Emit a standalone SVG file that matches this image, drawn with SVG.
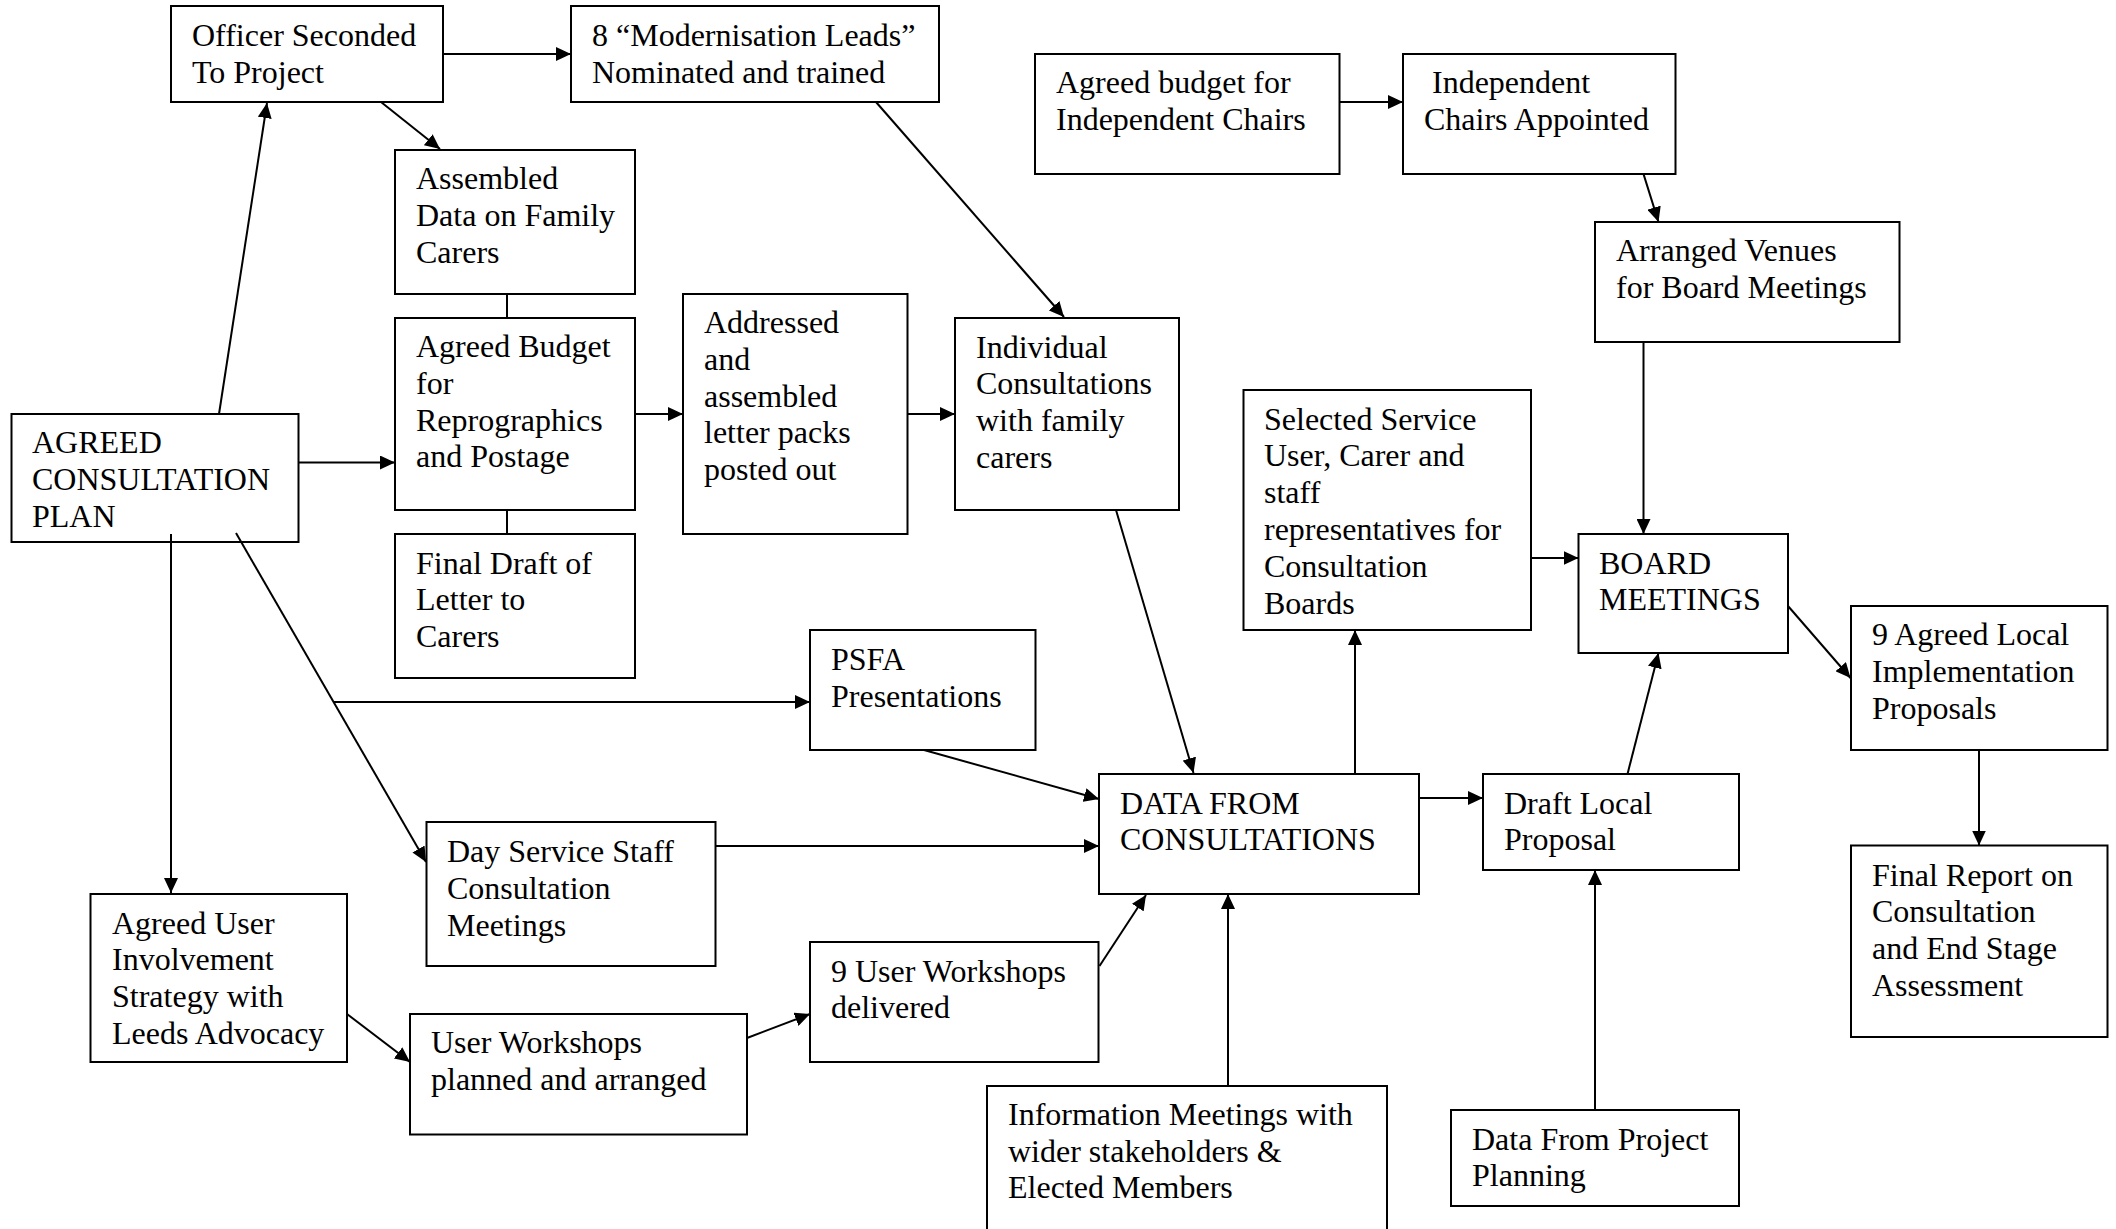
<svg xmlns="http://www.w3.org/2000/svg" width="2116" height="1229" viewBox="0 0 2116 1229">
<style>
.b{fill:#fff;stroke:#000;stroke-width:2}
.t{font-family:"Liberation Serif","Times New Roman",serif;font-size:32px;fill:#000}
.c{fill:none;stroke:#000;stroke-width:2}
.a{marker-end:url(#ah)}
</style>
<defs>
<marker id="ah" markerUnits="userSpaceOnUse" markerWidth="16" markerHeight="14" refX="15" refY="7" orient="auto">
<path d="M0,0 L15,7 L0,14 z" fill="#000"/>
</marker>
</defs>
<rect width="2116" height="1229" fill="#fff"/>
<g id="officer"><rect class="b" x="171" y="6" width="272" height="96"/>
<text class="t" x="192" y="46"><tspan x="192">Officer Seconded</tspan><tspan x="192" dy="36.8">To Project</tspan></text></g>
<g id="modernisation"><rect class="b" x="571" y="6" width="368" height="96"/>
<text class="t" x="592" y="46"><tspan x="592">8 “Modernisation Leads”</tspan><tspan x="592" dy="36.8">Nominated and trained</tspan></text></g>
<g id="assembled"><rect class="b" x="395" y="150" width="240" height="144"/>
<text class="t" y="189"><tspan x="416">Assembled</tspan><tspan x="416" dy="36.8">Data on Family</tspan><tspan x="416" dy="36.8">Carers</tspan></text></g>
<g id="budget-repro"><rect class="b" x="395" y="318" width="240" height="192"/>
<text class="t" y="357"><tspan x="416">Agreed Budget</tspan><tspan x="416" dy="36.8">for</tspan><tspan x="416" dy="36.8">Reprographics</tspan><tspan x="416" dy="36.8">and Postage</tspan></text></g>
<g id="final-draft"><rect class="b" x="395" y="534" width="240" height="144"/>
<text class="t" y="573.5"><tspan x="416">Final Draft of</tspan><tspan x="416" dy="36.8">Letter to</tspan><tspan x="416" dy="36.8">Carers</tspan></text></g>
<g id="addressed"><rect class="b" x="683" y="294" width="224.5" height="240"/>
<text class="t" y="333"><tspan x="704">Addressed</tspan><tspan x="704" dy="36.8">and</tspan><tspan x="704" dy="36.8">assembled</tspan><tspan x="704" dy="36.8">letter packs</tspan><tspan x="704" dy="36.8">posted out</tspan></text></g>
<g id="individual"><rect class="b" x="955" y="318" width="224" height="192"/>
<text class="t" y="357.5"><tspan x="976">Individual</tspan><tspan x="976" dy="36.8">Consultations</tspan><tspan x="976" dy="36.8">with family</tspan><tspan x="976" dy="36.8">carers</tspan></text></g>
<g id="plan"><rect class="b" x="11.5" y="414" width="287" height="128"/>
<text class="t" y="453"><tspan x="32">AGREED</tspan><tspan x="32" dy="36.8">CONSULTATION</tspan><tspan x="32" dy="36.8">PLAN</tspan></text></g>
<g id="psfa"><rect class="b" x="810" y="630" width="225.5" height="120"/>
<text class="t" y="670"><tspan x="831">PSFA</tspan><tspan x="831" dy="36.8">Presentations</tspan></text></g>
<g id="day-service"><rect class="b" x="426.5" y="822" width="289" height="144"/>
<text class="t" y="862"><tspan x="447">Day Service Staff</tspan><tspan x="447" dy="36.8">Consultation</tspan><tspan x="447" dy="36.8">Meetings</tspan></text></g>
<g id="user-strategy"><rect class="b" x="90.5" y="894" width="256.5" height="168"/>
<text class="t" y="933.5"><tspan x="112">Agreed User</tspan><tspan x="112" dy="36.8">Involvement</tspan><tspan x="112" dy="36.8">Strategy with</tspan><tspan x="112" dy="36.8">Leeds Advocacy</tspan></text></g>
<g id="workshops-planned"><rect class="b" x="410" y="1014" width="337" height="120.5"/>
<text class="t" y="1053"><tspan x="431">User Workshops</tspan><tspan x="431" dy="36.8">planned and arranged</tspan></text></g>
<g id="workshops-delivered"><rect class="b" x="810" y="942" width="288.5" height="120"/>
<text class="t" y="981.5"><tspan x="831">9 User Workshops</tspan><tspan x="831" dy="36.8">delivered</tspan></text></g>
<g id="info-meetings"><path class="b" d="M987,1240 L987,1086 L1387,1086 L1387,1240"/>
<text class="t" y="1125.3"><tspan x="1008">Information Meetings with</tspan><tspan x="1008" dy="36.5">wider stakeholders &amp;</tspan><tspan x="1008" dy="36.5">Elected Members</tspan></text></g>
<g id="data-consultations"><rect class="b" x="1099" y="774" width="320" height="120"/>
<text class="t" y="813.5"><tspan x="1120">DATA FROM</tspan><tspan x="1120" dy="36.8">CONSULTATIONS</tspan></text></g>
<g id="draft-proposal"><rect class="b" x="1483" y="774" width="256" height="96"/>
<text class="t" y="813.5"><tspan x="1504">Draft Local</tspan><tspan x="1504" dy="36.8">Proposal</tspan></text></g>
<g id="project-planning"><rect class="b" x="1451" y="1110" width="288" height="96"/>
<text class="t" y="1149.5"><tspan x="1472">Data From Project</tspan><tspan x="1472" dy="36.8">Planning</tspan></text></g>
<g id="selected"><rect class="b" x="1243.5" y="390" width="287.5" height="240"/>
<text class="t" y="429.5"><tspan x="1264">Selected Service</tspan><tspan x="1264" dy="36.8">User, Carer and</tspan><tspan x="1264" dy="36.8">staff</tspan><tspan x="1264" dy="36.8">representatives for</tspan><tspan x="1264" dy="36.8">Consultation</tspan><tspan x="1264" dy="36.8">Boards</tspan></text></g>
<g id="board"><rect class="b" x="1578.5" y="534" width="209.5" height="119"/>
<text class="t" y="573.5"><tspan x="1599">BOARD</tspan><tspan x="1599" dy="36.8">MEETINGS</tspan></text></g>
<g id="venues"><rect class="b" x="1595" y="222" width="304.5" height="120"/>
<text class="t" y="261"><tspan x="1616">Arranged Venues</tspan><tspan x="1616" dy="36.8">for Board Meetings</tspan></text></g>
<g id="budget-chairs"><rect class="b" x="1035" y="54" width="304.5" height="120"/>
<text class="t" y="93"><tspan x="1056">Agreed budget for</tspan><tspan x="1056" dy="36.8">Independent Chairs</tspan></text></g>
<g id="chairs"><rect class="b" x="1403" y="54" width="272.5" height="120"/>
<text class="t" y="93"><tspan x="1432">Independent</tspan><tspan x="1424" dy="36.8">Chairs Appointed</tspan></text></g>
<g id="agreed-local"><rect class="b" x="1851" y="606" width="256.5" height="144"/>
<text class="t" y="645"><tspan x="1872">9 Agreed Local</tspan><tspan x="1872" dy="36.8">Implementation</tspan><tspan x="1872" dy="36.8">Proposals</tspan></text></g>
<g id="final-report"><rect class="b" x="1851" y="845.5" width="256.5" height="191.5"/>
<text class="t" y="885.5"><tspan x="1872">Final Report on</tspan><tspan x="1872" dy="36.8">Consultation</tspan><tspan x="1872" dy="36.8">and End Stage</tspan><tspan x="1872" dy="36.8">Assessment</tspan></text></g>
<g id="connectors">
<path class="c a" d="M219,414 L267,103"/>
<path class="c a" d="M443,54 L571,54"/>
<path class="c a" d="M381,102 L440,149"/>
<path class="c" d="M507,294 L507,318"/>
<path class="c" d="M507,510 L507,534"/>
<path class="c a" d="M298.5,462.5 L395,462.5"/>
<path class="c a" d="M635,414 L683,414"/>
<path class="c a" d="M907.5,414 L955,414"/>
<path class="c a" d="M876,102 L1064,317"/>
<path class="c a" d="M171,534 L171,893"/>
<path class="c a" d="M236,533 L426,862"/>
<path class="c a" d="M333,702 L810,702"/>
<path class="c a" d="M924,750 L1099,799"/>
<path class="c a" d="M715.5,846 L1099,846"/>
<path class="c a" d="M347,1014 L410,1062"/>
<path class="c a" d="M747,1038 L810,1014"/>
<path class="c a" d="M1099.5,966 L1146,895"/>
<path class="c a" d="M1228,1086 L1228,894"/>
<path class="c a" d="M1116,510 L1193.5,773"/>
<path class="c a" d="M1355,774 L1355,630"/>
<path class="c a" d="M1531,558 L1578.5,558"/>
<path class="c a" d="M1643.5,342 L1643.5,534"/>
<path class="c a" d="M1339.5,102 L1403,102"/>
<path class="c a" d="M1643.5,174 L1658.5,222"/>
<path class="c a" d="M1788,606 L1850.5,678"/>
<path class="c a" d="M1979,750 L1979,845.5"/>
<path class="c a" d="M1419,798 L1483,798"/>
<path class="c a" d="M1627.5,774 L1658.5,653"/>
<path class="c a" d="M1595,1110 L1595,870"/>
</g>
</svg>
